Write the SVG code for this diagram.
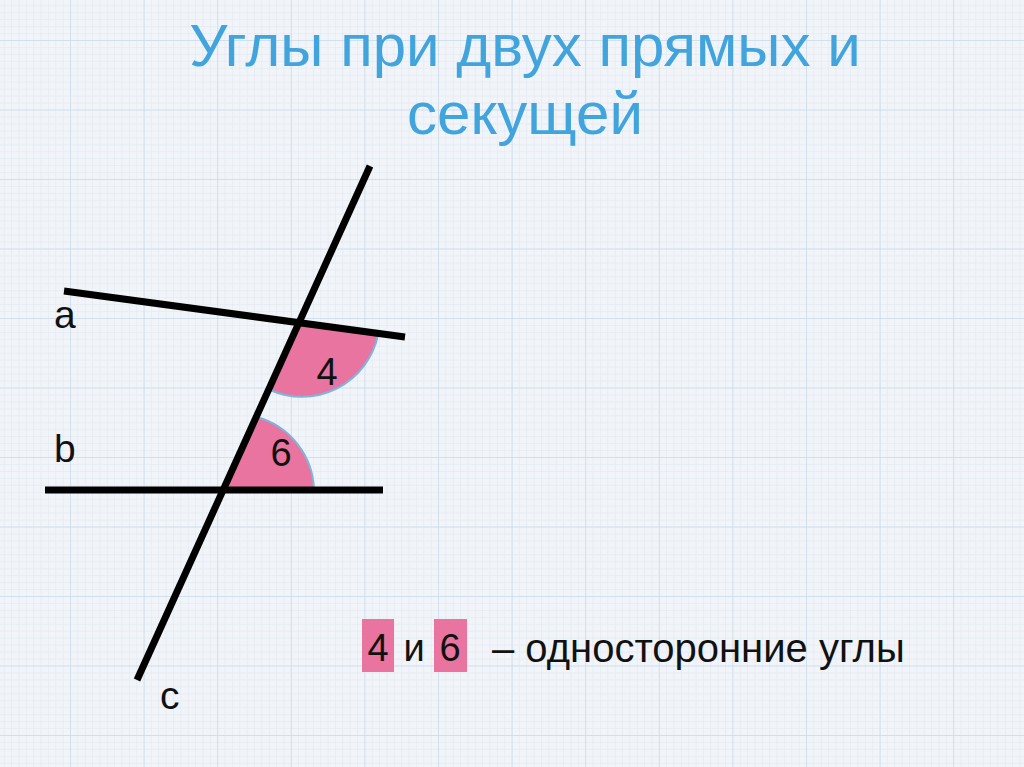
<svg xmlns="http://www.w3.org/2000/svg" width="1024" height="767" viewBox="0 0 1024 767">
<style>
.title{font-family:"Liberation Sans",Arial,sans-serif;font-size:60px;fill:#42a4dd;text-anchor:middle}
.lbl{font-family:"Liberation Sans",Arial,sans-serif;font-size:39px;fill:#111}
.leg{font-family:"Liberation Sans",Arial,sans-serif;font-size:40px;fill:#111}
.num{font-family:"Liberation Sans",Arial,sans-serif;font-size:38px;fill:#111;text-anchor:middle}
.ln{stroke:#000;stroke-width:7;fill:none;stroke-linecap:butt}
.ang{fill:#e8749f;stroke:#80b4dc;stroke-width:2}
.box{fill:#e8749f}
</style>
<defs>
<pattern id="minor" x="-3.6" y="-29.5" width="7.36" height="6.95" patternUnits="userSpaceOnUse">
<path d="M0 0V6.95M0 0H7.36" stroke="#e0e8f0" stroke-width="1" fill="none"/>
</pattern>
<pattern id="major" x="-3.6" y="-29.5" width="73.6" height="69.5" patternUnits="userSpaceOnUse">
<path d="M0 0V69.5M0 0H73.6" stroke="#cbdbeb" stroke-width="1.5" fill="none"/>
</pattern>
</defs>
<rect width="1024" height="767" fill="#f1f4f8"/>
<rect width="1024" height="767" fill="url(#minor)"/>
<rect width="1024" height="767" fill="url(#major)"/>

<g id="title">
<text class="title" x="525" y="66">Углы при двух прямых и</text>
<text class="title" x="525" y="134">секущей</text>
</g>

<g id="angle4">
<path class="ang" d="M298 323 L378 335 A78 78 0 0 1 270 390 Z"/>
<text class="num" x="327" y="385">4</text>
</g>
<g id="angle6">
<path class="ang" d="M222 490 L257 417 A78 78 0 0 1 314 490 Z"/>
<text class="num" x="281" y="466">6</text>
</g>

<g id="connectors">
<line id="line-a" class="ln" x1="64" y1="291" x2="405" y2="337"/>
<line id="line-b" class="ln" x1="45" y1="490" x2="383" y2="490"/>
<line id="line-c" class="ln" x1="370" y1="166" x2="137" y2="680"/>
</g>

<g id="labels">
<text class="lbl" x="54" y="328">a</text>
<text class="lbl" x="54" y="462">b</text>
<text class="lbl" x="160" y="709">c</text>
</g>

<g id="legend">
<rect class="box" x="362" y="619" width="32" height="53"/>
<rect class="box" x="434" y="619" width="33" height="53"/>
<text class="num" x="378" y="661">4</text>
<text class="num" x="414" y="661">и</text>
<text class="num" x="450" y="661">6</text>
<text class="leg" x="492" y="662">– односторонние углы</text>
</g>
</svg>
